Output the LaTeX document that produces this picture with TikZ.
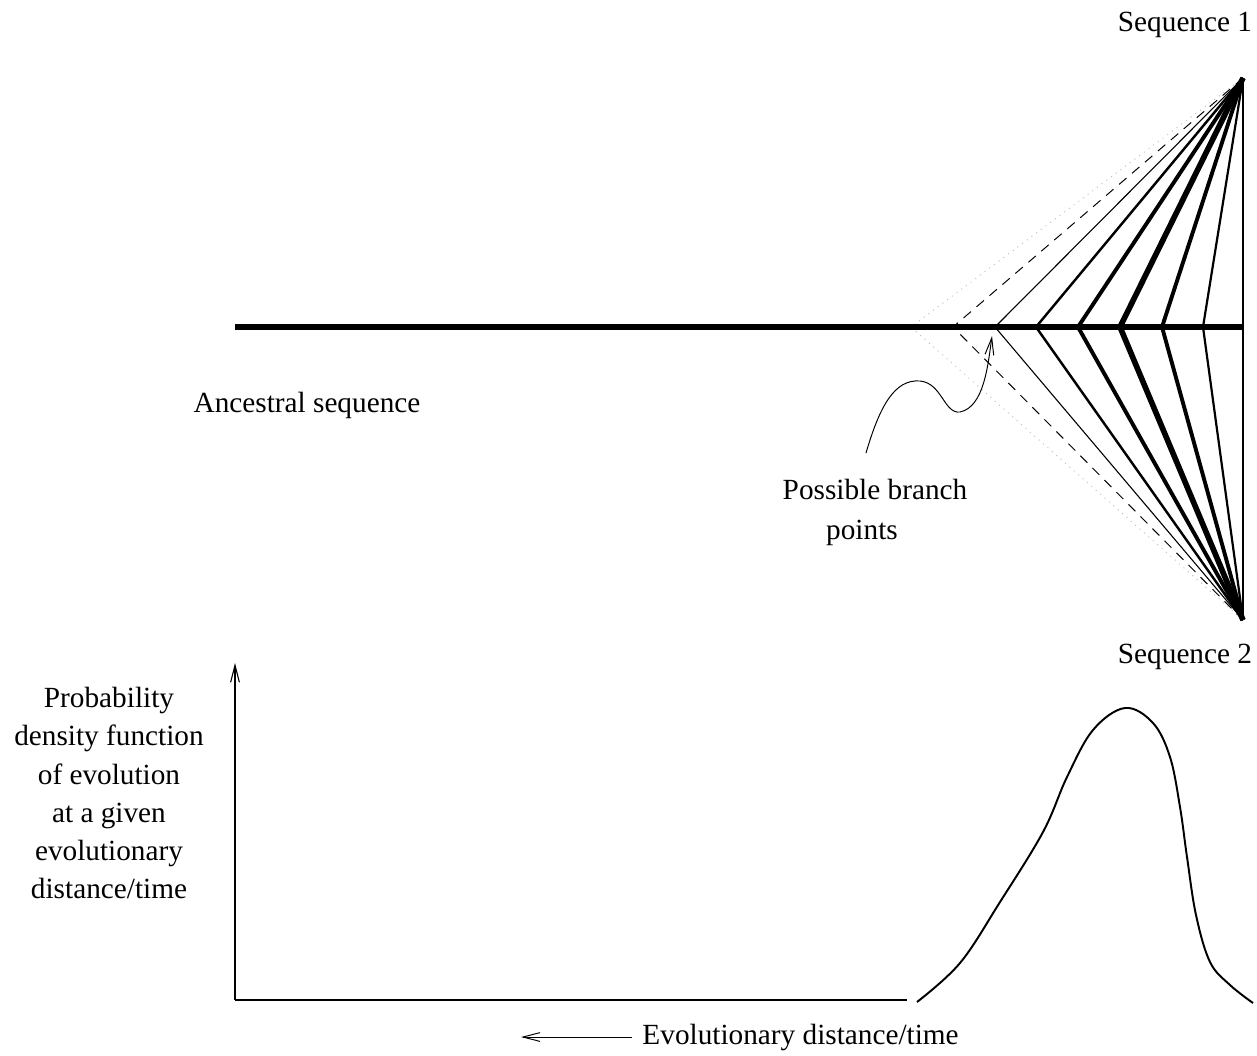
\documentclass[tikz,border=0pt]{standalone}
\usepackage{fontspec}
\setmainfont{Liberation Serif}
\usetikzlibrary{arrows.meta}
\tikzset{>={Straight Barb[length=7pt,width=3.6pt]}}
\tikzset{label/.style={inner sep=0pt,font=\fontsize{12}{15.6}\selectfont}}

\begin{document}
\begin{tikzpicture}[x=0.41pt,y=-0.41pt]
    \useasboundingbox (0,0) rectangle (1257,1055);
    \coordinate (seq1) at (1243,78);
    \coordinate (seq2) at (1243,620);
    % possible branch points
    \draw[dotted,gray!50,line width=0.4pt] (seq1) -- (911,327) -- (seq2);
    \draw[dash pattern=on 4pt off 3pt,line width=0.4pt] (seq1) -- (953,327) -- (seq2);
    \foreach \bx/\wd in {995/0.45pt,1036/1pt,1078/1.6pt,1120/2.3pt,1162/1.6pt,1203/0.9pt,1243/0.45pt}
        \draw[line width=\wd] (seq1) -- (\bx,327) -- (seq2);
    \draw[line width=2.3pt] (235,327) -- (1243,327);
    \node[label] (seqone) at (1185,25) {Sequence 1};
    \node[label] (seqtwo) at (1185,657) {Sequence 2};
    \node[label] (ancestor) at (307,405) {Ancestral sequence};
    \node[label] (branchtop) at (875,489) {Possible branch};
    \node[label] (branchbot) at (862,533) {points};
    \coordinate (curlstart) at (866,453);
    \coordinate (curlend) at (992,336);
    \draw[->,line width=0.4pt] (curlstart) .. controls (880,405) and (895,379) .. (920,381)
        .. controls (942,383) and (944,414) .. (960,412)
        .. controls (984,407) and (988,365) .. (curlend);
    % density plot
    \coordinate (origin) at (235,1000);
    \coordinate (ytop) at (235,663);
    \coordinate (xend) at (907,1000);
    \draw[->,line width=0.45pt] (origin) -- (ytop);
    \draw[line width=0.6pt] (origin) -- (xend);
    \draw[line width=0.8pt] plot[smooth,tension=0.6] coordinates {(917,1002) (960,963) (1000,902) (1043,832) (1067,777) (1093,730) (1125,708) (1153,723) (1170,757) (1180,807) (1187,857) (1196,915) (1210,962) (1230,985) (1253,1003)};
    \node[label,align=center] (pdflabel) at (109,793) {Probability\\density function\\of evolution\\at a given\\evolutionary\\distance/time};
    \node[label,anchor=west] (distlabel) at (642,1037) {Evolutionary distance/time};
    \coordinate (distend) at (521,1037);
    \draw[->,line width=0.4pt] ([xshift=-4pt]distlabel.west) -- (distend);
\end{tikzpicture}
\end{document}
